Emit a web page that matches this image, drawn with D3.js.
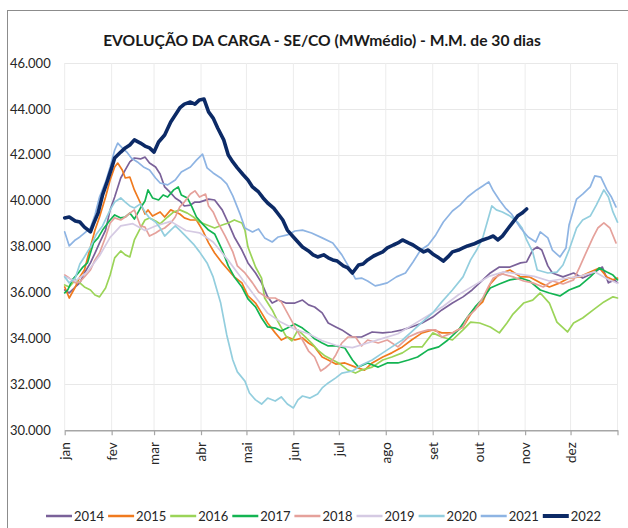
<!DOCTYPE html>
<html>
<head>
<meta charset="utf-8">
<script src="https://cdn.jsdelivr.net/npm/d3@7"></script>
<style>
  body { margin: 0; background: #fff; }
  svg { display: block; }
  text { font-family: Lato, "DejaVu Sans", sans-serif; }
</style>
</head>
<body>
<div id="chart"></div>
<script>
// series are [day of year, MWmédio]
var s2014 = [[0,36110],[3,35980],[7,36240],[10,36420],[13,36850],[17,37290],[20,37720],[23,38160],[27,38720],[30,39600],[33,40160],[37,40990],[40,41340],[43,41690],[46,41860],[50,41820],[53,41900],[56,41640],[60,41470],[63,41160],[66,40600],[70,40340],[73,40120],[76,39990],[79,39770],[83,39810],[86,39940],[89,39940],[95,40070],[99,40030],[104,39600],[108,39030],[112,38420],[117,37850],[121,37290],[126,36850],[130,36420],[134,35810],[137,35540],[141,35670],[146,35540],[152,35540],[157,35670],[161,35460],[165,35370],[170,35110],[174,34670],[179,34500],[183,34370],[190,34060],[196,34060],[203,34280],[210,34240],[216,34280],[223,34370],[229,34500],[236,34670],[243,34930],[249,35240],[256,35540],[263,35810],[269,36110],[274,36420],[281,36850],[287,37110],[294,37110],[301,37290],[305,37330],[309,37850],[312,37980],[315,37850],[319,37160],[322,36850],[329,36680],[336,36850],[342,36630],[349,36850],[355,37110],[359,36420],[363,36550],[365,36420]];
var s2015 = [[0,36240],[3,35760],[7,36240],[10,36680],[13,36980],[17,37980],[20,38720],[23,39290],[27,40160],[30,40900],[33,41470],[35,41640],[38,41340],[40,40990],[43,41030],[46,40470],[50,39900],[53,39420],[55,39600],[58,39330],[63,39510],[66,39290],[70,39600],[73,39510],[76,39420],[79,39250],[83,39160],[87,39160],[91,38720],[95,38160],[99,37720],[104,37290],[108,36980],[112,36680],[117,36420],[121,35850],[126,35540],[130,35110],[134,34670],[139,34240],[143,33930],[147,34060],[152,33930],[157,34020],[161,33800],[165,33630],[170,33190],[174,33060],[179,32880],[185,32930],[192,32750],[198,32620],[203,32930],[210,33190],[216,33370],[223,33630],[229,33930],[236,34240],[243,34370],[249,34240],[256,34240],[263,34500],[269,35150],[276,35590],[281,36370],[287,36810],[294,36980],[301,36680],[307,36680],[314,36420],[320,36240],[327,36420],[333,36630],[340,36680],[347,36890],[353,37070],[358,36680],[362,36550],[365,36630]];
var s2016 = [[0,36330],[3,36240],[7,36550],[10,36420],[13,36240],[17,36110],[20,35890],[23,35810],[27,36200],[30,36760],[33,37510],[37,37810],[40,37640],[43,37550],[46,38290],[50,38810],[53,39160],[56,39250],[60,39120],[63,38990],[68,39290],[72,39510],[76,39600],[81,39460],[85,39290],[89,39070],[94,38940],[99,38810],[104,38940],[108,39030],[112,39160],[117,39030],[119,38720],[121,37980],[126,37110],[130,36630],[132,35760],[137,35240],[141,34710],[146,34110],[150,33890],[154,34370],[159,34060],[163,33800],[167,33500],[172,33230],[177,33060],[182,32880],[187,32620],[192,32490],[196,32620],[203,32750],[210,33060],[216,33190],[223,33370],[229,33630],[236,33630],[243,34240],[249,34060],[256,33930],[263,34370],[268,34710],[274,34670],[281,34500],[287,34240],[292,34670],[296,35060],[303,35540],[309,35670],[314,35980],[320,35540],[325,34710],[332,34280],[336,34670],[342,34890],[349,35240],[356,35590],[362,35810],[365,35760]];
var s2017 = [[0,35980],[2,36110],[5,36550],[9,36850],[12,37110],[15,37290],[19,38160],[22,38380],[25,38720],[30,39160],[33,39380],[37,39250],[40,39290],[43,39460],[46,39200],[50,39680],[53,39990],[55,40470],[58,40120],[62,40030],[65,40250],[68,40160],[72,40470],[75,40600],[77,40250],[81,40120],[84,39730],[87,39290],[91,38990],[95,38720],[99,38550],[104,37850],[108,37160],[112,36680],[117,36240],[121,35720],[126,35370],[130,34890],[134,34500],[139,34450],[143,34320],[147,34450],[152,34630],[157,34450],[161,34240],[165,33980],[170,33800],[174,33670],[179,33670],[185,33580],[190,33060],[194,32750],[200,32930],[207,32750],[213,32930],[220,32930],[227,33060],[233,33190],[240,33500],[247,33630],[253,33930],[260,34370],[266,34930],[271,35370],[276,35720],[281,36200],[287,36370],[294,36550],[301,36630],[307,36500],[314,36110],[320,35980],[327,35850],[333,36110],[340,36290],[347,36680],[353,37070],[358,36890],[362,36760],[365,36550]];
var s2018 = [[0,36760],[3,36630],[7,36420],[10,36460],[13,36680],[17,36980],[20,37420],[23,37720],[27,38420],[30,39030],[33,39250],[37,39160],[40,39290],[43,39460],[46,39600],[50,38900],[53,38850],[56,38460],[60,38590],[63,38720],[66,38810],[70,39030],[73,39290],[76,39730],[79,39940],[83,40290],[86,40430],[89,40160],[93,40290],[95,39770],[98,39510],[101,39070],[106,38460],[111,37770],[114,37160],[119,36850],[124,36420],[128,36020],[134,35760],[139,35760],[143,35590],[147,35110],[152,34500],[157,33930],[161,33450],[165,33190],[169,32580],[172,32710],[175,32880],[179,33280],[183,33800],[187,34060],[192,34060],[196,33670],[200,33930],[207,33800],[213,33930],[220,33630],[227,34060],[233,34240],[240,34370],[245,34370],[249,34060],[256,34240],[263,34500],[266,34930],[271,35240],[276,35760],[280,36290],[283,36630],[289,36810],[296,36680],[303,36500],[309,36420],[316,36240],[322,36500],[329,36370],[336,36550],[340,37110],[345,37850],[349,38420],[352,38810],[356,39030],[360,38810],[364,38160]];
var s2019 = [[0,36700],[7,36500],[15,36900],[23,37600],[30,38400],[37,38900],[45,39000],[53,38700],[60,38900],[70,39100],[80,38700],[89,38600],[98,38200],[108,37400],[117,36600],[126,35800],[134,35100],[143,34700],[152,34400],[161,34200],[170,33900],[179,33700],[190,33600],[200,33800],[210,34000],[220,34200],[230,34600],[240,35000],[250,35400],[260,35900],[270,36300],[280,36700],[290,36900],[300,36800],[310,36700],[320,36500],[330,36600],[340,36700],[350,36900],[358,36600],[365,36400]];
var s2020 = [[0,36680],[3,36420],[7,36630],[10,37240],[13,37550],[17,37980],[21,38550],[25,38900],[30,39600],[33,39940],[37,40120],[40,39940],[43,39770],[46,39680],[50,39860],[53,39510],[56,39250],[60,39070],[63,38810],[66,38460],[70,38720],[73,38900],[76,38720],[81,38380],[85,38110],[89,37770],[94,37290],[98,36680],[103,35540],[107,34150],[111,33060],[114,32540],[119,32140],[122,31620],[126,31320],[130,31140],[134,31400],[139,31270],[143,31450],[147,31140],[151,30970],[154,31320],[157,31490],[162,31400],[167,31580],[170,31840],[174,32060],[179,32280],[183,32490],[190,32580],[196,32840],[203,33060],[210,33370],[216,33630],[223,33930],[229,34280],[236,34710],[243,35110],[249,35590],[256,36110],[263,36680],[268,37420],[272,37850],[276,38380],[279,39070],[282,39770],[285,39600],[289,39510],[294,39330],[299,39070],[302,38810],[305,38290],[309,37770],[312,36980],[319,36850],[325,36890],[329,37200],[333,37850],[338,38810],[342,39160],[347,39330],[351,39810],[356,40470],[359,40160],[362,39510],[365,39070]];
var s2021 = [[0,38640],[3,38030],[7,38290],[10,38420],[13,38590],[17,38810],[20,39380],[23,40160],[27,40820],[30,41470],[33,42210],[35,42510],[38,42300],[41,42120],[44,41860],[48,41690],[52,41470],[56,41340],[60,40990],[63,40770],[68,40690],[73,40900],[77,41250],[83,41470],[87,41770],[91,42030],[94,41430],[98,41210],[103,40990],[107,40730],[111,40210],[116,39380],[119,38810],[124,38640],[128,38770],[132,38380],[137,38200],[141,38420],[147,38510],[152,38680],[157,38720],[163,38590],[170,38380],[177,38160],[183,37640],[188,37070],[192,36590],[196,36630],[200,36500],[205,36290],[208,36330],[213,36420],[219,36680],[225,36850],[230,37330],[235,37850],[240,38070],[245,38510],[250,39070],[256,39550],[261,39810],[266,40160],[272,40470],[276,40640],[280,40820],[283,40430],[287,40030],[291,39680],[295,39420],[301,38810],[306,38420],[311,38200],[314,38640],[319,38380],[322,37850],[327,37550],[331,37940],[333,38940],[338,40070],[342,40290],[347,40600],[350,41080],[354,41030],[358,40470],[361,40160],[364,39730]];
var s2022 = [[0,39250],[3,39290],[7,39120],[10,39070],[13,38850],[17,38640],[19,38990],[22,39460],[25,40250],[28,40820],[31,41430],[33,41860],[37,42120],[40,42300],[43,42430],[46,42650],[50,42510],[53,42380],[56,42300],[59,42120],[62,42560],[66,42860],[70,43430],[73,43730],[76,44040],[79,44210],[83,44300],[86,44210],[89,44390],[92,44430],[95,43870],[98,43600],[101,43170],[105,42650],[108,41990],[111,41690],[114,41430],[118,41120],[121,40900],[124,40600],[128,40380],[131,40120],[134,39900],[138,39680],[141,39420],[144,39160],[147,38720],[151,38420],[154,38200],[157,37980],[161,37810],[164,37640],[167,37550],[171,37640],[174,37510],[177,37420],[180,37370],[184,37160],[187,37070],[190,36850],[194,37200],[197,37240],[200,37420],[204,37590],[207,37680],[210,37770],[213,37940],[217,38070],[220,38160],[223,38290],[227,38160],[230,38070],[233,37940],[237,37770],[240,37850],[243,37680],[247,37510],[250,37370],[253,37550],[256,37770],[260,37850],[263,37940],[266,38030],[270,38110],[273,38200],[276,38290],[280,38380],[283,38460],[286,38290],[289,38460],[293,38810],[296,39070],[299,39330],[302,39460],[305,39640]];

var years = ['2014', '2015', '2016', '2017', '2018', '2019', '2020', '2021', '2022'];
var seriesData = [s2014, s2015, s2016, s2017, s2018, s2019, s2020, s2021, s2022];
var colors = ['#7a6199', '#f07a1e', '#9bd458', '#13b452', '#e5a19b', '#d5cae3', '#93cede', '#8eb4e3', '#0c2a66'];
var monthLabels = ['jan', 'fev', 'mar', 'abr', 'mai', 'jun', 'jul', 'ago', 'set', 'out', 'nov', 'dez'];
var yTicks = [30000, 32000, 34000, 36000, 38000, 40000, 42000, 44000, 46000];

var svgWidth = 628;
var svgHeight = 528;
var margin = {top: 63, right: 10.5, bottom: 97.8, left: 64.7};
var width = svgWidth - margin.left - margin.right;
var height = svgHeight - margin.top - margin.bottom;

var svg = d3.select('#chart').append('svg')
  .attr('width', svgWidth)
  .attr('height', svgHeight);

// outer chart frame (runs off the right/bottom edge in the reference)
svg.append('rect')
  .attr('x', 7.5).attr('y', 10.5)
  .attr('width', 700).attr('height', 600)
  .attr('fill', 'none')
  .attr('stroke', '#8c8c8c');

var chartGroup = svg.append('g')
  .attr('transform', `translate(${margin.left}, ${margin.top})`);

var yearStart = new Date(2022, 0, 1);
var yearEnd = new Date(2023, 0, 1);
var monthDates = d3.timeMonth.range(yearStart, d3.timeDay.offset(yearEnd, 1));

var xScale = d3.scaleTime().domain([yearStart, yearEnd]).range([0, width]);
var yScale = d3.scaleLinear().domain([30000, 46000]).range([height, 0]);

var ptBR = d3.formatLocale({decimal: ',', thousands: '.', grouping: [3], currency: ['R$', '']});
var fmt = ptBR.format(',d');

// grid
chartGroup.append('g')
  .selectAll('line')
  .data(yTicks)
  .enter()
  .append('line')
  .attr('x1', 0).attr('x2', width)
  .attr('y1', d => Math.round(yScale(d)) + 0.5)
  .attr('y2', d => Math.round(yScale(d)) + 0.5)
  .attr('stroke', '#e8e8e8');

chartGroup.append('g')
  .selectAll('line')
  .data(monthDates)
  .enter()
  .append('line')
  .attr('x1', d => xScale(d)).attr('x2', d => xScale(d))
  .attr('y1', 0).attr('y2', height)
  .attr('stroke', '#ececec');

// y labels (no axis line)
var leftAxis = d3.axisLeft(yScale).tickValues(yTicks).tickFormat(fmt).tickSize(0).tickPadding(14);
var yAxis = chartGroup.append('g').call(leftAxis);
yAxis.select('.domain').remove();
yAxis.selectAll('text')
  .attr('fill', '#262626')
  .style('font-size', '13px');

// x axis with rotated month labels
var bottomAxis = d3.axisBottom(xScale)
  .tickValues(monthDates)
  .tickFormat((d, i) => monthLabels[i] || '')
  .tickSizeInner(5)
  .tickSizeOuter(0);

var xAxis = chartGroup.append('g')
  .attr('transform', `translate(0, ${height})`)
  .call(bottomAxis);
xAxis.select('.domain').attr('stroke', '#a6a6a6').attr('stroke-width', 1.5);
xAxis.selectAll('.tick line').attr('stroke', '#a6a6a6').attr('stroke-width', 1.2);
xAxis.selectAll('text')
  .attr('transform', 'rotate(-90)')
  .attr('x', -12)
  .attr('y', 0)
  .attr('dy', '0.36em')
  .style('text-anchor', 'end')
  .style('font-size', '13.5px')
  .attr('fill', '#262626');

// lines
var line = d3.line()
  .x(d => xScale(d3.timeDay.offset(yearStart, d[0])))
  .y(d => yScale(d[1]));

chartGroup.append('g')
  .selectAll('path')
  .data(seriesData)
  .enter()
  .append('path')
  .attr('d', d => line(d))
  .attr('fill', 'none')
  .attr('stroke', (d, i) => colors[i])
  .attr('stroke-width', (d, i) => years[i] === '2022' ? 3.6 : 1.7)
  .attr('stroke-linejoin', 'round')
  .attr('stroke-linecap', 'round');

// title
var title = svg.append('text')
  .attr('x', 322)
  .attr('y', 46)
  .attr('text-anchor', 'middle')
  .style('font-weight', 'bold')
  .style('font-size', '17px')
  .attr('fill', '#1a1a1a')
  .text('EVOLUÇÃO DA CARGA - SE/CO (MWmédio) - M.M. de 30 dias');
var tw = title.node().getComputedTextLength();
title.style('font-size', (17 * 438 / tw) + 'px');

// legend
var legend = svg.append('g').attr('transform', 'translate(46, 516)');
var items = legend.selectAll('g')
  .data(years)
  .enter()
  .append('g')
  .attr('transform', (d, i) => `translate(${i * 62.1}, 0)`);

items.append('line')
  .attr('x1', 0).attr('x2', 26)
  .attr('y1', 0).attr('y2', 0)
  .attr('stroke', (d, i) => colors[i])
  .attr('stroke-width', d => d === '2022' ? 4 : 2.5);

items.append('text')
  .attr('x', 28)
  .attr('y', 0)
  .attr('dy', '0.36em')
  .style('font-size', '13px')
  .attr('fill', '#262626')
  .text(d => d);
</script>
</body>
</html>
